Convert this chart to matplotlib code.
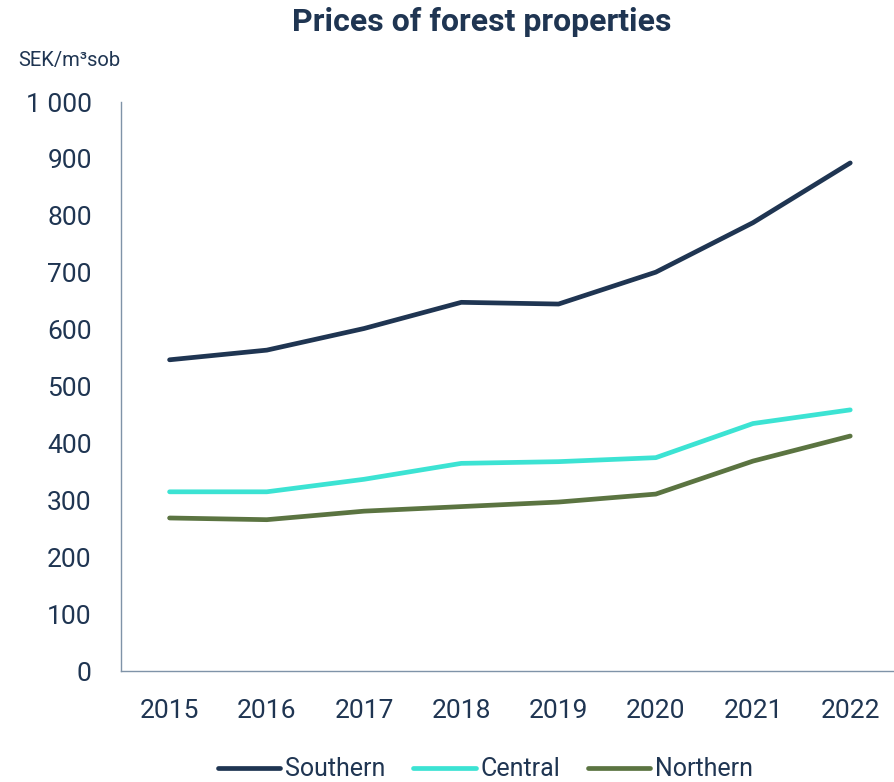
import matplotlib.pyplot as plt
from matplotlib.ticker import FuncFormatter

# data (SEK/m3sob)
years = ["2015", "2016", "2017", "2018", "2019", "2020", "2021", "2022"]
southern = [547, 564, 602, 648, 645, 701, 788, 893]
central = [315, 315, 337, 365, 368, 375, 435, 459]
northern = [269, 266, 281, 289, 297, 311, 369, 413]

series = [("Southern", southern, "#1f3552"),
          ("Central", central, "#3ce3d3"),
          ("Northern", northern, "#5b7441")]

text_col = "#1f3552"
plt.rcParams['font.family'] = ['Liberation Sans Narrow', 'Roboto', 'DejaVu Sans']

fig = plt.figure(figsize=(8.94, 7.82), dpi=100)
ax = fig.add_axes([0.1353, 0.1419, 0.8647, 0.7276])

x = list(range(len(years)))
for name, vals, col in series:
    ax.plot(x, vals, color=col, linewidth=3.4, solid_capstyle="round",
            solid_joinstyle="round", label=name)

ax.set_xlim(-0.5, 7.45)
ax.set_ylim(0, 1000)
ax.set_yticks(range(0, 1001, 100))
ax.yaxis.set_major_formatter(FuncFormatter(lambda v, p: f"{int(v):,}".replace(",", " ")))
ax.set_xticks(x)
ax.set_xticklabels(years)

ax.tick_params(axis="both", length=0, labelsize=19, labelcolor=text_col)
ax.tick_params(axis="y", pad=21)
ax.tick_params(axis="x", pad=20)

for s in ["top", "right"]:
    ax.spines[s].set_visible(False)
for s in ["left", "bottom"]:
    ax.spines[s].set_color("#7f93a8")
    ax.spines[s].set_linewidth(1.0)

fig.text(0.539, 0.972, "Prices of forest properties", ha="center", va="center",
         fontsize=23, fontweight="bold", color=text_col)
fig.text(0.02, 0.923, "SEK/m³sob", ha="left", va="center", fontsize=14.5, color=text_col)

fig.legend(loc="center", bbox_to_anchor=(0.543, 0.016), ncol=3, frameon=False,
           fontsize=18, labelcolor=text_col, handlelength=2.5, handletextpad=0.2,
           columnspacing=1.1)

plt.savefig("out.png", dpi=100)
